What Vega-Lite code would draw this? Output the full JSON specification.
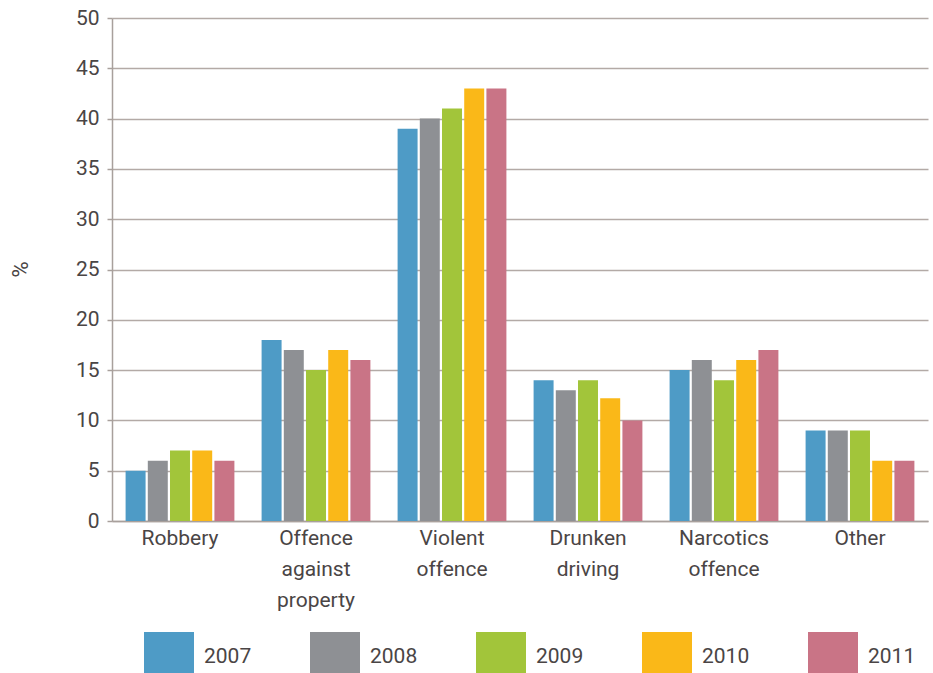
{
  "$schema": "https://vega.github.io/schema/vega-lite/v6.json",
  "width": 816,
  "height": 503,
  "autosize": "none",
  "padding": {"left": 112, "top": 18, "right": 5, "bottom": 152},
  "background": "white",
  "data": {
    "values": [
      {"category": "Robbery", "year": "2007", "value": 5},
      {"category": "Robbery", "year": "2008", "value": 6},
      {"category": "Robbery", "year": "2009", "value": 7},
      {"category": "Robbery", "year": "2010", "value": 7},
      {"category": "Robbery", "year": "2011", "value": 6},
      {"category": "Offence|against|property", "year": "2007", "value": 18},
      {"category": "Offence|against|property", "year": "2008", "value": 17},
      {"category": "Offence|against|property", "year": "2009", "value": 15},
      {"category": "Offence|against|property", "year": "2010", "value": 17},
      {"category": "Offence|against|property", "year": "2011", "value": 16},
      {"category": "Violent|offence", "year": "2007", "value": 39},
      {"category": "Violent|offence", "year": "2008", "value": 40},
      {"category": "Violent|offence", "year": "2009", "value": 41},
      {"category": "Violent|offence", "year": "2010", "value": 43},
      {"category": "Violent|offence", "year": "2011", "value": 43},
      {"category": "Drunken|driving", "year": "2007", "value": 14},
      {"category": "Drunken|driving", "year": "2008", "value": 13},
      {"category": "Drunken|driving", "year": "2009", "value": 14},
      {"category": "Drunken|driving", "year": "2010", "value": 12.2},
      {"category": "Drunken|driving", "year": "2011", "value": 10},
      {"category": "Narcotics|offence", "year": "2007", "value": 15},
      {"category": "Narcotics|offence", "year": "2008", "value": 16},
      {"category": "Narcotics|offence", "year": "2009", "value": 14},
      {"category": "Narcotics|offence", "year": "2010", "value": 16},
      {"category": "Narcotics|offence", "year": "2011", "value": 17},
      {"category": "Other", "year": "2007", "value": 9},
      {"category": "Other", "year": "2008", "value": 9},
      {"category": "Other", "year": "2009", "value": 9},
      {"category": "Other", "year": "2010", "value": 6},
      {"category": "Other", "year": "2011", "value": 6}
    ]
  },
  "mark": {"type": "bar"},
  "encoding": {
    "x": {
      "field": "category",
      "type": "nominal",
      "sort": null,
      "scale": {"paddingInner": 0.2, "paddingOuter": 0.1},
      "axis": {
        "title": null,
        "labelAngle": 0,
        "labelExpr": "split(datum.label, '|')",
        "labelFont": "Roboto",
        "labelFontSize": 21,
        "labelColor": "#4a4545",
        "labelLineHeight": 31,
        "labelPadding": 6,
        "ticks": false,
        "domainColor": "#a8a09c",
        "domainWidth": 1.5,
        "labelBaseline": "top"
      }
    },
    "xOffset": {
      "field": "year",
      "type": "nominal",
      "scale": {"paddingInner": 0.1}
    },
    "y": {
      "field": "value",
      "type": "quantitative",
      "scale": {"domain": [0, 50]},
      "axis": {
        "title": "%",
        "titleFont": "Roboto",
        "titleFontSize": 22,
        "titleFontWeight": "normal",
        "titleColor": "#4a4545",
        "titleX": -92,
        "titleY": 251,
        "titleBaseline": "middle",
        "titleAlign": "center",
        "values": [0, 5, 10, 15, 20, 25, 30, 35, 40, 45, 50],
        "labelFont": "Roboto",
        "labelFontSize": 21,
        "labelColor": "#4a4545",
        "labelPadding": 8,
        "tickSize": 5,
        "tickColor": "#a8a09c",
        "tickWidth": 1.5,
        "gridColor": "#b3aaa6",
        "gridWidth": 1.5,
        "domainColor": "#a8a09c",
        "domainWidth": 1.5
      }
    },
    "color": {
      "field": "year",
      "type": "nominal",
      "scale": {
        "domain": ["2007", "2008", "2009", "2010", "2011"],
        "range": ["#4e9bc6", "#8e9094", "#a2c53a", "#fab818", "#c97486"]
      },
      "legend": {
        "title": null,
        "orient": "none",
        "legendX": 32,
        "legendY": 614,
        "direction": "horizontal",
        "symbolType": "square",
        "symbolSize": 2500,
        "symbolStrokeWidth": 0,
        "symbolOpacity": 1,
        "labelFont": "Roboto",
        "labelFontSize": 21,
        "labelColor": "#4a4545",
        "labelOffset": 10,
        "columnPadding": 58
      }
    }
  },
  "config": {"view": {"stroke": null}}
}
